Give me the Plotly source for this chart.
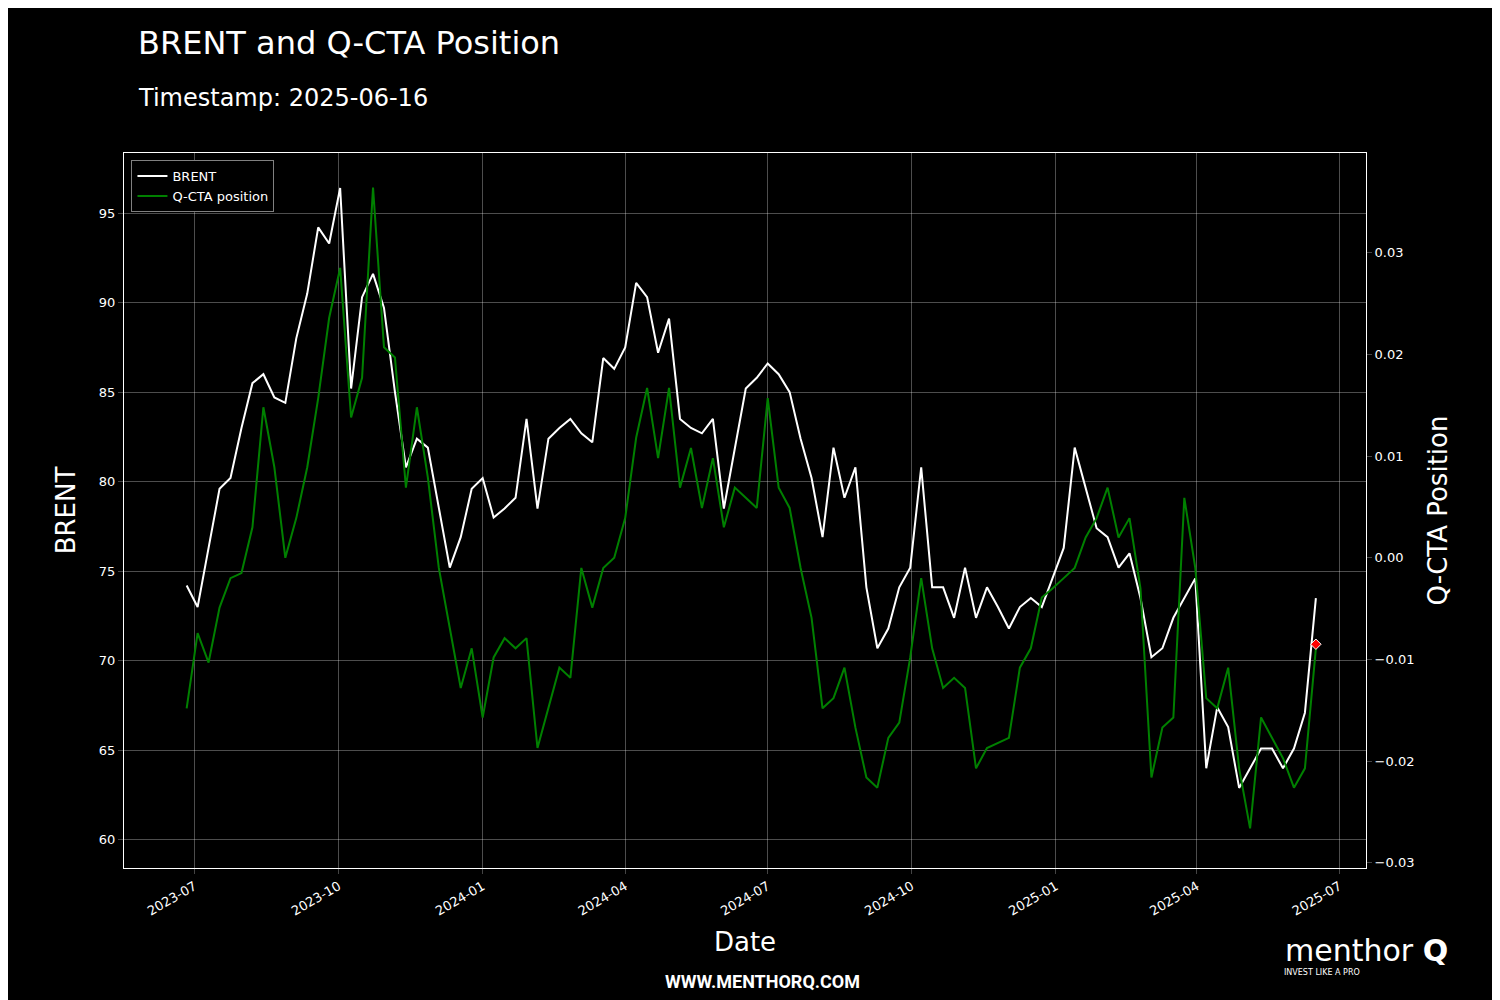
import pandas as pd
import plotly.graph_objects as go

# weekly readings, 2023-06-20 .. 2025-06-16
brent = [74.2, 73.0, 76.3, 79.6, 80.2, 83.0, 85.5, 86.0, 84.7, 84.4, 88.0, 90.5, 94.2, 93.3, 96.4,
         85.2, 90.3, 91.6, 89.7, 85.0, 80.8, 82.4, 81.9, 78.5, 75.2, 76.9, 79.6, 80.2, 78.0, 78.5,
         79.1, 83.5, 78.5, 82.4, 83.0, 83.5, 82.7, 82.2, 86.9, 86.3, 87.5, 91.1, 90.3, 87.2, 89.1,
         83.5, 83.0, 82.7, 83.5, 78.5, 81.9, 85.2, 85.8, 86.6, 86.0, 85.0, 82.4, 80.2, 76.9, 81.9,
         79.1, 80.8, 74.1, 70.7, 71.8, 74.1, 75.2, 80.8, 74.1, 74.1, 72.4, 75.2, 72.4, 74.1, 73.0,
         71.8, 73.0, 73.5, 73.0, 74.6, 76.3, 81.9, 79.6, 77.4, 76.9, 75.2, 76.0, 73.5, 70.2, 70.7,
         72.4, 73.5, 74.6, 64.0, 67.4, 66.3, 62.9, 64.0, 65.1, 65.1, 64.0, 65.1, 67.1, 73.5]
cta = [-0.0148, -0.0074, -0.0103, -0.0049, -0.002, -0.0015, 0.003, 0.0148, 0.0089, 0.0, 0.0039,
       0.0089, 0.0157, 0.0236, 0.0285, 0.0138, 0.0177, 0.0364, 0.0207, 0.0197, 0.0069, 0.0148,
       0.0079, -0.001, -0.0069, -0.0128, -0.0089, -0.0157, -0.0098, -0.0079, -0.0089, -0.0079,
       -0.0187, -0.0148, -0.0108, -0.0118, -0.001, -0.0049, -0.001, 0.0, 0.0039, 0.0118, 0.0167,
       0.0098, 0.0167, 0.0069, 0.0108, 0.0049, 0.0098, 0.003, 0.0069, 0.0059, 0.0049, 0.0157,
       0.0069, 0.0049, -0.001, -0.0059, -0.0148, -0.0138, -0.0108, -0.0167, -0.0216, -0.0226,
       -0.0177, -0.0162, -0.0098, -0.002, -0.0089, -0.0128, -0.0118, -0.0128, -0.0207, -0.0187,
       -0.0182, -0.0177, -0.0108, -0.0089, -0.0039, -0.003, -0.002, -0.001, 0.002, 0.0039, 0.0069,
       0.002, 0.0039, -0.003, -0.0216, -0.0167, -0.0157, 0.0059, -0.001, -0.0138, -0.0148, -0.0108,
       -0.0207, -0.0266, -0.0157, -0.0177, -0.0197, -0.0226, -0.0207, -0.0089]
last_cta = -0.0085

dates = pd.date_range(end="2025-06-16", periods=len(brent), freq="7D")
cta_dates = pd.date_range(end="2025-06-16", periods=len(cta), freq="7D")

fig = go.Figure()
fig.add_trace(go.Scatter(x=dates, y=brent, name="BRENT", mode="lines",
                         line=dict(color="white", width=2)))
fig.add_trace(go.Scatter(x=cta_dates, y=cta, name="Q-CTA position", mode="lines", yaxis="y2",
                         line=dict(color="green", width=2)))
fig.add_trace(go.Scatter(x=[cta_dates[-1]], y=[last_cta], mode="markers", yaxis="y2", showlegend=False,
                         marker=dict(symbol="diamond", color="red", size=8, line=dict(color="white", width=1))))

grid = "rgba(255,255,255,0.3)"
W, H = 1242, 715  # plot area size in px

def px_x(x):
    return (x - 116) / W

def px_y(y):
    return (860 - y) / H

fig.update_layout(
    width=1500, height=1000, paper_bgcolor="black", plot_bgcolor="black",
    font=dict(family="DejaVu Sans", color="white", size=13),
    margin=dict(l=116, r=142, t=145, b=140),
    xaxis=dict(title=dict(text="Date", font=dict(size=26)), range=["2023-05-17", "2025-07-18"],
               dtick="M3", tickformat="%Y-%m", tickangle=-30, showgrid=True, gridcolor=grid,
               showline=True, linecolor="white", mirror=True, ticks="outside", zeroline=False),
    yaxis=dict(title=dict(text="BRENT", font=dict(size=26)), range=[58.43, 98.35], dtick=5,
               showgrid=True, gridcolor=grid, showline=True, linecolor="white", ticks="outside",
               zeroline=False),
    yaxis2=dict(title=dict(text="Q-CTA Position", font=dict(size=26)), overlaying="y", side="right",
                range=[-0.0305, 0.0398], dtick=0.01, tickformat=".2f", showgrid=False,
                showline=True, linecolor="white", ticks="outside", zeroline=False),
    legend=dict(x=0.006, y=0.99, xanchor="left", yanchor="top", bgcolor="black",
                bordercolor="gray", borderwidth=1, font=dict(size=13)),
    annotations=[
        dict(text="BRENT and Q-CTA Position", x=px_x(128), y=px_y(35), xref="paper", yref="paper",
             xanchor="left", yanchor="middle", showarrow=False, font=dict(size=32)),
        dict(text="Timestamp: 2025-06-16", x=px_x(128), y=px_y(90), xref="paper", yref="paper",
             xanchor="left", yanchor="middle", showarrow=False, font=dict(size=24)),
        dict(text="<b>WWW.MENTHORQ.COM</b>", x=px_x(755), y=px_y(973), xref="paper", yref="paper",
             xanchor="center", yanchor="middle", showarrow=False, font=dict(size=18, family="Roboto")),
        dict(text="menthor <b>Q</b>", x=px_x(1442), y=px_y(943), xref="paper", yref="paper",
             xanchor="right", yanchor="middle", showarrow=False, font=dict(size=30)),
        dict(text="INVEST LIKE A PRO", x=px_x(1274), y=px_y(964), xref="paper", yref="paper",
             xanchor="left", yanchor="middle", showarrow=False, font=dict(size=8)),
    ],
)
fig.write_html("out.html")
